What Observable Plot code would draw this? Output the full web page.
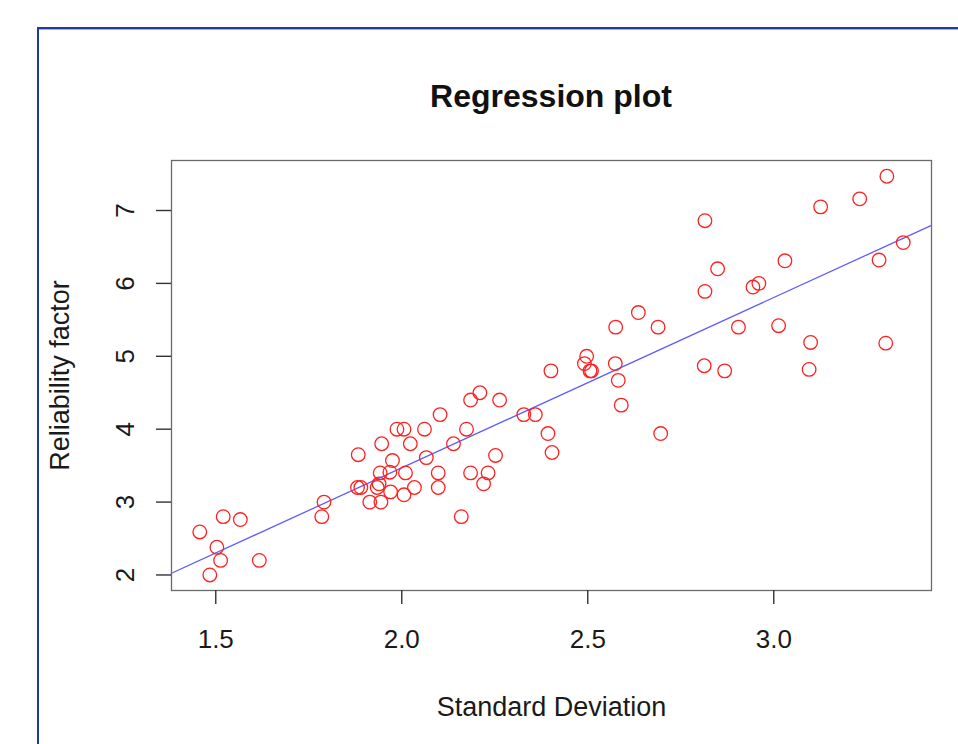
<!DOCTYPE html>
<html>
<head>
<meta charset="utf-8">
<script src="https://cdn.jsdelivr.net/npm/d3@7"></script>
<script src="https://cdn.jsdelivr.net/npm/@observablehq/plot@0.6"></script>
<style>
  html, body { margin: 0; padding: 0; background: #fff; }
  #wrap { position: relative; width: 958px; height: 744px; overflow: hidden; font-family: "Liberation Sans", Arial, Helvetica, sans-serif; }
  #border { position: absolute; left: 37px; top: 27px; width: 1000px; height: 800px;
            border-left: 2px solid #1f3d98; border-top: 2px solid #1f3d98; box-shadow: inset 0 1px 0 #9fb0dc; }
  #title { position: absolute; left: 171px; width: 760px; top: 78px; text-align: center;
           font-weight: bold; font-size: 32px; line-height: 36px; color: #111; }
  #chart, #ticks { position: absolute; left: 0; top: 0; }
  #ticks { pointer-events: none; }
</style>
</head>
<body>
<div id="wrap">
  <div id="border"></div>
  <div id="chart"></div>
  <div id="ticks"></div>
  <div id="title">Regression plot</div>
</div>
<script>
// Standard Deviation (x) values
const stdDev = [
  1.457, 1.520, 1.566, 1.503, 1.513, 1.484, 1.617, 1.785, 1.791, 1.883,
  1.881, 1.890, 1.914, 1.944, 1.934, 1.939, 1.942, 1.946, 1.968, 1.975,
  1.970, 1.987, 2.006, 2.010, 2.006, 2.023, 2.034, 2.061, 2.066, 2.098,
  2.098, 2.103, 2.139, 2.160, 2.174, 2.185, 2.185, 2.210, 2.220, 2.232,
  2.252, 2.263, 2.328, 2.359, 2.393, 2.404, 2.401, 2.497, 2.491, 2.506,
  2.510, 2.575, 2.574, 2.582, 2.590, 2.636, 2.689, 2.696, 2.815, 2.815,
  2.813, 2.849, 2.868, 2.905, 2.944, 2.960, 3.013, 3.030, 3.099, 3.095,
  3.126, 3.231, 3.304, 3.283, 3.348, 3.301
];
// Reliability factor (y) values
const reliability = [
  2.59, 2.80, 2.76, 2.38, 2.20, 2.00, 2.20, 2.80, 3.00, 3.65,
  3.20, 3.20, 3.00, 3.00, 3.20, 3.25, 3.40, 3.80, 3.41, 3.57,
  3.14, 4.00, 4.00, 3.40, 3.10, 3.80, 3.20, 4.00, 3.61, 3.40,
  3.20, 4.20, 3.80, 2.80, 4.00, 3.40, 4.40, 4.50, 3.25, 3.40,
  3.64, 4.40, 4.20, 4.20, 3.94, 3.68, 4.80, 5.00, 4.90, 4.80,
  4.80, 5.40, 4.90, 4.67, 4.33, 5.60, 5.40, 3.94, 6.86, 5.89,
  4.87, 6.20, 4.80, 5.40, 5.95, 6.00, 5.42, 6.31, 5.19, 4.82,
  7.05, 7.16, 7.47, 6.32, 6.56, 5.18
];
const xTicks = [1.5, 2.0, 2.5, 3.0];
const yTicks = [2, 3, 4, 5, 6, 7];
const xDomain = [1.381, 3.424];
const yDomain = [1.787, 7.686];
const xTitle = "Standard Deviation";
const yTitle = "Reliability factor";

const points = stdDev.map((x, i) => ({x, y: reliability[i]}));

// least-squares fit computed from the data
const mx = d3.mean(stdDev), my = d3.mean(reliability);
const slope = d3.sum(points, d => (d.x - mx) * (d.y - my)) / d3.sum(points, d => (d.x - mx) ** 2);
const intercept = my - slope * mx;
const fitLine = xDomain.map(x => ({x, y: intercept + slope * x}));

const W = 958, H = 744, mL = 171, mR = 27, mT = 160, mB = 154;
const frameW = W - mL - mR, frameH = H - mT - mB;
const font = "Liberation Sans, Arial, Helvetica, sans-serif";
const ink = "#1a1a1a";
const layout = {width: W, height: H, marginLeft: mL, marginRight: mR, marginTop: mT, marginBottom: mB};

const chart = Plot.plot({
  ...layout,
  style: {fontFamily: font, fontSize: "26px", color: ink, background: "transparent"},
  x: {domain: xDomain, axis: null},
  y: {domain: yDomain, axis: null},
  marks: [
    Plot.frame({stroke: "#6a6a6a", strokeWidth: 1.3}),
    Plot.line(fitLine, {x: "x", y: "y", stroke: "#5c5cff", strokeWidth: 1.3}),
    Plot.dot(points, {x: "x", y: "y", r: 6.8, stroke: "#ff2020", strokeWidth: 1.3, fill: "none"}),
    // tick labels
    Plot.text(xTicks, {x: d => d, text: d3.format(".1f"), frameAnchor: "bottom", lineAnchor: "middle", dy: 49, fontSize: 26, fill: ink}),
    Plot.text(yTicks, {y: d => d, text: d3.format("d"), frameAnchor: "left", textAnchor: "middle", lineAnchor: "middle", dx: -46, rotate: -90, fontSize: 26, fill: ink}),
    // axis titles
    Plot.text([xTitle], {frameAnchor: "bottom", dy: 125, fontSize: 27, fill: ink}),
    Plot.text([yTitle], {frameAnchor: "left", textAnchor: "middle", dx: -111, rotate: -90, fontSize: 27, fill: ink})
  ]
});
document.getElementById("chart").appendChild(chart);

// tick marks in an overlay using the same scales
const tickLayer = Plot.plot({
  ...layout,
  style: {background: "transparent"},
  x: {domain: xDomain, axis: null},
  y: {domain: yDomain, axis: null},
  marks: [
    Plot.ruleX(xTicks, {x: d => d, insetTop: frameH, insetBottom: -14, stroke: "#333", strokeWidth: 1.4}),
    Plot.ruleY(yTicks, {y: d => d, insetRight: frameW, insetLeft: -15, stroke: "#333", strokeWidth: 1.4})
  ]
});
document.getElementById("ticks").appendChild(tickLayer);
</script>
</body>
</html>
